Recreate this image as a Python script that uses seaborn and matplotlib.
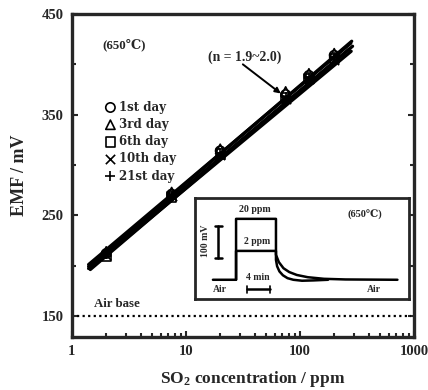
import numpy as np
import pandas as pd
import matplotlib
matplotlib.use("Agg")
import matplotlib.pyplot as plt
import seaborn as sns

# ---------------- data ----------------
days = ["1st day", "3rd day", "6th day", "10th day", "21st day"]
day_markers = ["o", "^", "s", "x", "+"]
conc = [2, 7.5, 20, 75, 120, 200]
emf_1st = [212, 271, 314, 370, 389, 409]
emf_3rd = [214, 273, 316, 373, 391, 411]
emf_6th = [209, 268, 311, 367, 386, 406]
emf_10th = [210, 269, 310, 366, 385, 404]
emf_21st = [211, 270, 312, 368, 387, 407]
emf_all = [emf_1st, emf_3rd, emf_6th, emf_10th, emf_21st]

# fitted line ends
line_conc = [[1.4, 285], [1.4, 280], [1.45, 270], [1.4, 290], [1.5, 282]]
line_emf = [[199, 423], [201, 421], [196, 415], [197, 418], [199, 413]]

air_base = 150

# inset transient (time in min, signal in mV)
t20 = [3.1, 7.1, 7.1, 14.0, 14.0, 14.5, 15.3, 16.3, 17.6, 19.5, 22.3, 26, 35.0]
s20 = [0, 0, 190, 190, 78, 55, 36, 24, 15, 8, 3, 1, 0]
t2 = [7.1, 7.1, 14.0, 14.0, 14.2, 14.6, 15.2, 16.0, 17.0, 18.5, 20.5, 23.0]
s2 = [0, 90, 90, 62, 42, 26, 14, 5, 0, -3, -2, 0]

# ---------------- style ----------------
sns.set_style("ticks")
serif = ["Liberation Serif", "DejaVu Serif", "Noto Sans CJK JP"]
wide_serif = ["DejaVu Serif"]
plt.rcParams["font.family"] = serif
plt.rcParams["font.weight"] = "bold"
plt.rcParams["mathtext.fontset"] = "custom"
plt.rcParams["mathtext.rm"] = "Liberation Serif:bold"
plt.rcParams["mathtext.bf"] = "Liberation Serif:bold"
plt.rcParams["mathtext.default"] = "rm"

fig = plt.figure(figsize=(4.28, 3.90), dpi=100)
ax = fig.add_axes([0.168, 0.136, 0.799, 0.828])

rows = []
for d, e in zip(days, emf_all):
    for c, v in zip(conc, e):
        rows.append({"day": d, "conc": c, "emf": v})
df = pd.DataFrame(rows)

lines_rows = []
for d, lc, le in zip(days, line_conc, line_emf):
    for c, v in zip(lc, le):
        lines_rows.append({"day": d, "conc": c, "emf": v})
dfl = pd.DataFrame(lines_rows)

for d in days:
    sns.lineplot(data=dfl[dfl.day == d], x="conc", y="emf", ax=ax,
                 color="black", lw=2.3, legend=False)

for d, m in zip(days, day_markers):
    sub = df[df.day == d]
    if m in ("x", "+"):
        sns.scatterplot(data=sub, x="conc", y="emf", ax=ax, marker=m,
                        color="black", s=45, linewidth=1.2, label=d, zorder=5)
    else:
        sns.scatterplot(data=sub, x="conc", y="emf", ax=ax, marker=m,
                        facecolor="none", edgecolor="black", s=45,
                        linewidth=1.2, label=d, zorder=5)

ax.hlines(air_base, 1.1, 950, colors="black", linestyles=(0, (1, 1.5)), lw=1.6)

ax.set_xscale("log")
ax.set_xlim(1, 1000)
ax.set_ylim(129, 450)
ax.set_yticks([150, 250, 350, 450])
ax.set_yticks([200, 300, 400], minor=True)
ax.set_xticks([1, 10, 100, 1000])
ax.set_xticklabels(["1", "10", "100", "1000"])
ax.tick_params(which="both", direction="in", labelsize=10.5, width=1.5,
               right=True, top=False, pad=6)
ax.tick_params(which="major", length=4)
ax.tick_params(which="minor", length=3)
for lbl in ax.get_xticklabels() + ax.get_yticklabels():
    lbl.set_fontweight("bold")
for s in ax.spines.values():
    s.set_linewidth(2.4)
    s.set_visible(True)

ax.set_xlabel("SO$_2$ concentration / ppm", fontsize=12.5, fontweight="bold")
ax.xaxis.set_label_coords(0.529, -0.099)
ax.set_ylabel("EMF / mV", fontsize=13, fontweight="bold", labelpad=10)

leg = ax.legend(loc="upper left", bbox_to_anchor=(0.097, 0.732), frameon=False,
                prop={"family": wide_serif, "weight": "bold", "size": 8.5},
                handlelength=0.9, handletextpad=0.25,
                labelspacing=0.36, borderpad=0, borderaxespad=0)

ax.text(2.86, 419, "(650℃)", fontsize=9.3, fontweight="bold", ha="center", va="center")
ax.text(2.48, 162, "Air base", fontsize=9.3, fontweight="bold", ha="center", va="center")
ax.text(33, 407, "(n = 1.9~2.0)", fontsize=9.9, fontweight="bold", ha="center", va="center")
ax.annotate("", xy=(68, 371), xytext=(31.6, 400),
            arrowprops=dict(arrowstyle="-|>", color="black", lw=1.4,
                            mutation_scale=8, shrinkA=0, shrinkB=0))

# ---------------- inset ----------------
axi = fig.add_axes([0.4556, 0.2333, 0.5, 0.259])
sns.lineplot(x=t20, y=s20, ax=axi, color="black", lw=1.8, sort=False, estimator=None)
sns.lineplot(x=t2, y=s2, ax=axi, color="black", lw=1.8, sort=False, estimator=None)
axi.set_xlim(0, 37)
axi.set_ylim(-60, 255)
axi.set_xticks([])
axi.set_yticks([])
axi.set_xlabel("")
axi.set_ylabel("")
for s in axi.spines.values():
    s.set_linewidth(2.0)
    s.set_visible(True)
# scale bars
axi.plot([4.0, 4.0], [68, 168], color="black", lw=1.8)
axi.plot([3.4, 4.6], [68, 68], color="black", lw=1.8)
axi.plot([3.4, 4.6], [168, 168], color="black", lw=1.8)
axi.text(1.9, 120, "100 mV", rotation=90, fontsize=7, fontweight="bold",
         ha="center", va="center")
axi.plot([9.0, 13.0], [-30, -30], color="black", lw=1.8)
axi.plot([9.0, 9.0], [-40, -20], color="black", lw=1.2)
axi.plot([13.0, 13.0], [-40, -20], color="black", lw=1.2)
axi.text(10.8, 8, "4 min", fontsize=7, fontweight="bold", ha="center", va="center")
axi.text(10.3, 218, "20 ppm", fontsize=7.2, fontweight="bold", ha="center", va="center")
axi.text(10.7, 118, "2 ppm", fontsize=7, fontweight="bold", ha="center", va="center")
axi.text(29.3, 202, "(650℃)", fontsize=7.5, fontweight="bold", ha="center", va="center")
axi.text(4.3, -30, "Air", fontsize=7, fontweight="bold", ha="center", va="center")
axi.text(30.9, -30, "Air", fontsize=7, fontweight="bold", ha="center", va="center")

fig.savefig("out.png", dpi=100)
